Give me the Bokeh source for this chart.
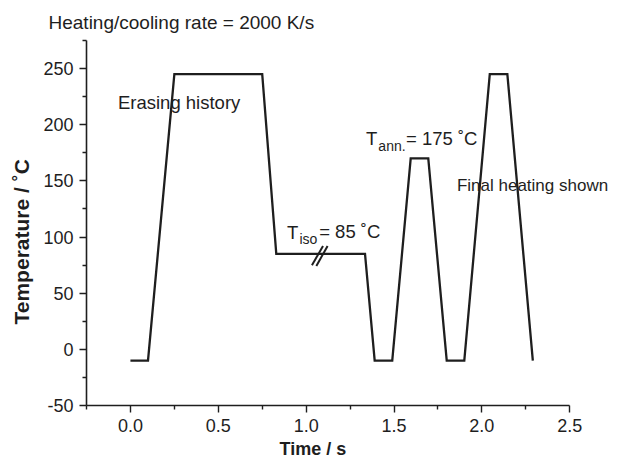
from bokeh.plotting import figure
from bokeh.models import Range1d, FixedTicker, Label, Title, CustomJSTickFormatter
from bokeh.embed import file_html
from bokeh.resources import INLINE

# ---- data ----
time_s = [0.0, 0.10, 0.25, 0.75, 0.83, 1.335, 1.39, 1.49, 1.595, 1.695, 1.80, 1.90, 2.045, 2.145, 2.29]
temp_c = [-10, -10, 245, 245, 85, 85, -10, -10, 170, 170, -10, -10, 245, 245, -10]

x_major = [0.0, 0.5, 1.0, 1.5, 2.0, 2.5]
x_minor = [-0.25, 0.25, 0.75, 1.25, 1.75, 2.25]
y_major = [-50, 0, 50, 100, 150, 200, 250]
y_minor = [-25, 25, 75, 125, 175, 225, 275]
x_axis_span = (-0.25, 2.5)
y_axis_span = (-50, 275)

# break mark "//" on the isothermal segment
brk_x0 = [1.033, 1.058]
brk_y0 = [74.8, 74.2]
brk_x1 = [1.096, 1.122]
brk_y1 = [92.1, 92.1]

FONT = "Liberation Sans"
INK = "#1e1e1e"

p = figure(width=610, height=462, output_backend="svg", toolbar_location=None,
           x_range=Range1d(-0.25, 2.732), y_range=Range1d(-50, 275),
           min_border_left=83, min_border_right=0, min_border_top=40, min_border_bottom=57)
p.outline_line_color = None
p.grid.visible = False
p.background_fill_color = "white"
p.border_fill_color = "white"

p.line(time_s, temp_c, line_color=INK, line_width=2.3, line_join="miter")
p.segment(x0=brk_x0, y0=brk_y0, x1=brk_x1, y1=brk_y1, line_color=INK, line_width=2.0)

for ax, maj, mnr, span in ((p.xaxis[0], x_major, x_minor, x_axis_span),
                           (p.yaxis[0], y_major, y_minor, y_axis_span)):
    ax.ticker = FixedTicker(ticks=maj, minor_ticks=mnr)
    ax.bounds = span
    ax.axis_line_color = INK
    ax.axis_line_width = 1.6
    ax.major_tick_line_color = INK
    ax.minor_tick_line_color = INK
    ax.major_tick_line_width = 1.4
    ax.minor_tick_line_width = 1.4
    ax.major_tick_out = 7
    ax.major_tick_in = 0
    ax.minor_tick_out = 4
    ax.minor_tick_in = 0
    ax.major_label_text_font = FONT
    ax.major_label_text_font_size = "18px"
    ax.major_label_text_color = INK
    ax.major_label_standoff = 6

p.xaxis[0].formatter = CustomJSTickFormatter(code="return tick.toFixed(1);")
p.yaxis[0].formatter = CustomJSTickFormatter(code="return tick.toFixed(0);")

# chart title and axis titles as positioned titles
p.add_layout(Title(text="Heating/cooling rate = 2000 K/s", text_font=FONT, text_font_size="19px",
                   text_font_style="normal", text_color=INK, align="left",
                   offset=-38, standoff=15), "above")
p.add_layout(Title(text="Time / s", text_font=FONT, text_font_size="18px",
                   text_font_style="bold", text_color=INK, align="left",
                   offset=193, standoff=5), "below")
p.add_layout(Title(text="Temperature / \u02daC", text_font=FONT, text_font_size="21px",
                   text_font_style="bold", text_color=INK, align="left",
                   offset=81, standoff=15), "left")

def lab(x, y, text, size="18.5px"):
    p.add_layout(Label(x=x, y=y, text=text, text_font=FONT, text_font_size=size,
                       text_color=INK, text_align="left", text_baseline="alphabetic"))

lab(-0.071, 219.5, "Erasing history")
lab(0.891, 104.4, "T")
lab(0.962, 97.9, "iso", size="14px")
lab(1.074, 104.5, "= 85 \u02daC")
lab(1.341, 187.7, "T")
lab(1.411, 181.2, "ann.", size="14px")
lab(1.568, 187.7, "= 175 \u02daC")
lab(1.858, 146.2, "Final heating shown", size="17px")

open("out.html", "w").write(file_html(p, INLINE))
